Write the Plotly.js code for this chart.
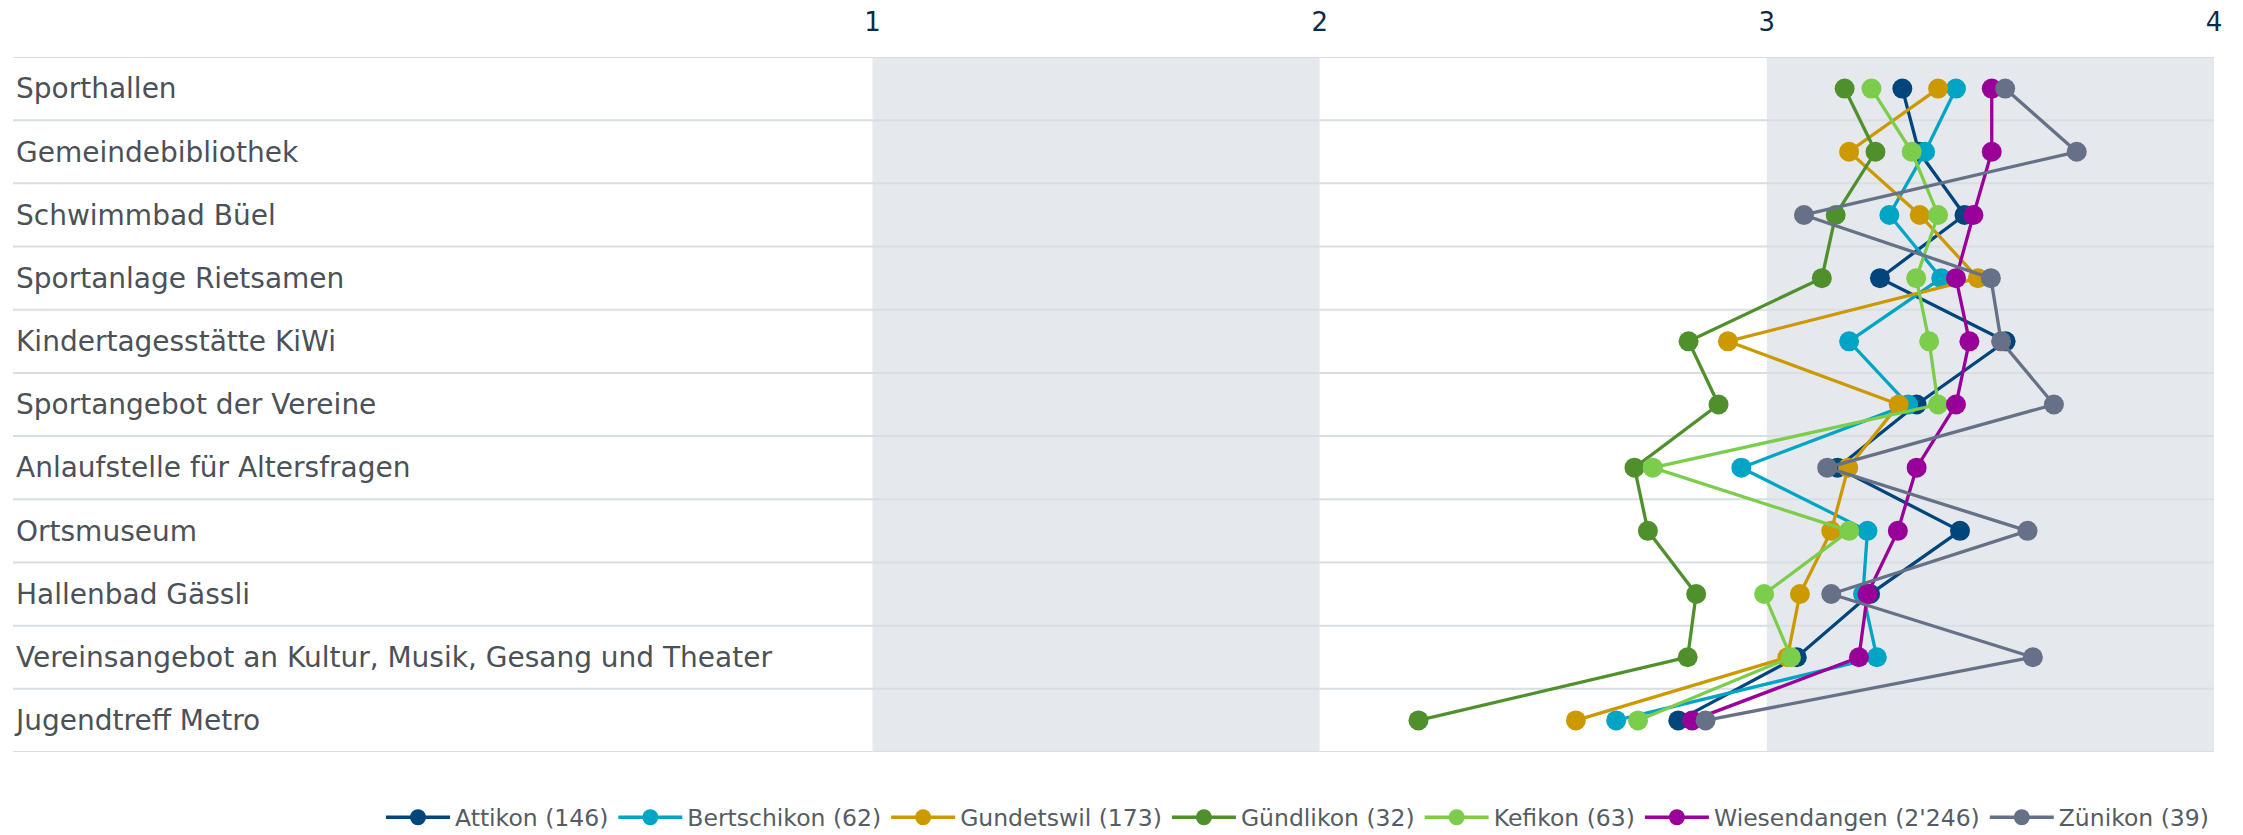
<!DOCTYPE html>
<html>
<head>
<meta charset="utf-8">
<script src="https://cdn.plot.ly/plotly-3.0.1.min.js"></script>
<style>html,body{margin:0;padding:0;background:#fff;}#chart{width:2243px;height:835px;}</style>
</head>
<body>
<div id="chart"></div>
<script>
const categories = [
  "Sporthallen",
  "Gemeindebibliothek",
  "Schwimmbad Büel",
  "Sportanlage Rietsamen",
  "Kindertagesstätte KiWi",
  "Sportangebot der Vereine",
  "Anlaufstelle für Altersfragen",
  "Ortsmuseum",
  "Hallenbad Gässli",
  "Vereinsangebot an Kultur, Musik, Gesang und Theater",
  "Jugendtreff Metro"
];
const seriesNames = ["Attikon (146)", "Bertschikon (62)", "Gundetswil (173)", "Gündlikon (32)", "Kefikon (63)", "Wiesendangen (2'246)", "Zünikon (39)"];
const attikon      = [3.303, 3.340, 3.442, 3.253, 3.534, 3.335, 3.158, 3.432, 3.231, 3.067, 2.802];
const bertschikon  = [3.423, 3.354, 3.274, 3.390, 3.184, 3.316, 2.943, 3.225, 3.215, 3.246, 2.663];
const gundetswil   = [3.383, 3.184, 3.342, 3.472, 2.913, 3.295, 3.182, 3.144, 3.074, 3.046, 2.573];
const guendlikon   = [3.174, 3.243, 3.154, 3.123, 2.825, 2.892, 2.704, 2.734, 2.842, 2.823, 2.221];
const kefikon      = [3.234, 3.324, 3.383, 3.334, 3.363, 3.383, 2.745, 3.184, 2.994, 3.054, 2.712];
const wiesendangen = [3.503, 3.503, 3.462, 3.423, 3.453, 3.423, 3.335, 3.293, 3.225, 3.206, 2.833];
const zuenikon     = [3.533, 3.693, 3.083, 3.501, 3.524, 3.642, 3.135, 3.583, 3.144, 3.595, 2.863];
const tickValues = [1, 2, 3, 4];
const tickLabels = ["1", "2", "3", "4"];

const seriesValues = [attikon, bertschikon, gundetswil, guendlikon, kefikon, wiesendangen, zuenikon];
const colors = ["#00467c", "#00a4c4", "#cc9a00", "#4f902c", "#7ccd4b", "#990099", "#667087"];

const traces = seriesValues.map((vals, i) => ({
  type: "scatter",
  mode: "lines+markers",
  name: seriesNames[i],
  x: vals,
  y: categories,
  line: {color: colors[i], width: 3.3},
  marker: {color: colors[i], size: 20},
  hoverinfo: "x+name"
}));

const n = categories.length;
const gridShapes = [];
for (let i = 0; i <= n; i++) {
  gridShapes.push({type: "line", xref: "paper", yref: "y", x0: 0, x1: 1, y0: i - 0.5, y1: i - 0.5,
    line: {color: "#d9dee2", width: 2}, layer: "below"});
}

const layout = {
  width: 2243, height: 835,
  margin: {l: 13, r: 29, t: 57, b: 83, autoexpand: false},
  paper_bgcolor: "#ffffff",
  plot_bgcolor: "#ffffff",
  font: {family: "DejaVu Sans, Verdana, sans-serif", color: "#4b5157"},
  showlegend: true,
  legend: {
    orientation: "h",
    x: 1, xanchor: "right",
    yref: "container",
    y: 0.021, yanchor: "middle",
    font: {size: 23.5, color: "#555c63"},
    itemwidth: 64,
    tracegroupgap: 0
  },
  xaxis: {
    side: "top",
    range: [-0.922, 4],
    tickvals: tickValues,
    ticktext: tickLabels,
    showgrid: false,
    zeroline: false,
    showline: false,
    ticks: "outside",
    ticklen: 15,
    tickcolor: "rgba(0,0,0,0)",
    tickfont: {size: 26, color: "#0d2a47"}
  },
  yaxis: {
    type: "category",
    categoryorder: "array",
    categoryarray: categories,
    range: [n - 0.5, -0.5],
    showgrid: false,
    zeroline: false,
    showline: false,
    ticks: "",
    ticklabelposition: "inside",
    tickfont: {size: 28, color: "#4b5157"}
  },
  shapes: [
    {type: "rect", xref: "x", yref: "paper", x0: tickValues[0], x1: tickValues[1], y0: 0, y1: 1, fillcolor: "#e5e9ed", line: {width: 0}, layer: "below"},
    {type: "rect", xref: "x", yref: "paper", x0: tickValues[2], x1: tickValues[3], y0: 0, y1: 1, fillcolor: "#e5e9ed", line: {width: 0}, layer: "below"}
  ].concat(gridShapes)
};

Plotly.newPlot("chart", traces, layout, {displayModeBar: false, staticPlot: true});
</script>
</body>
</html>
